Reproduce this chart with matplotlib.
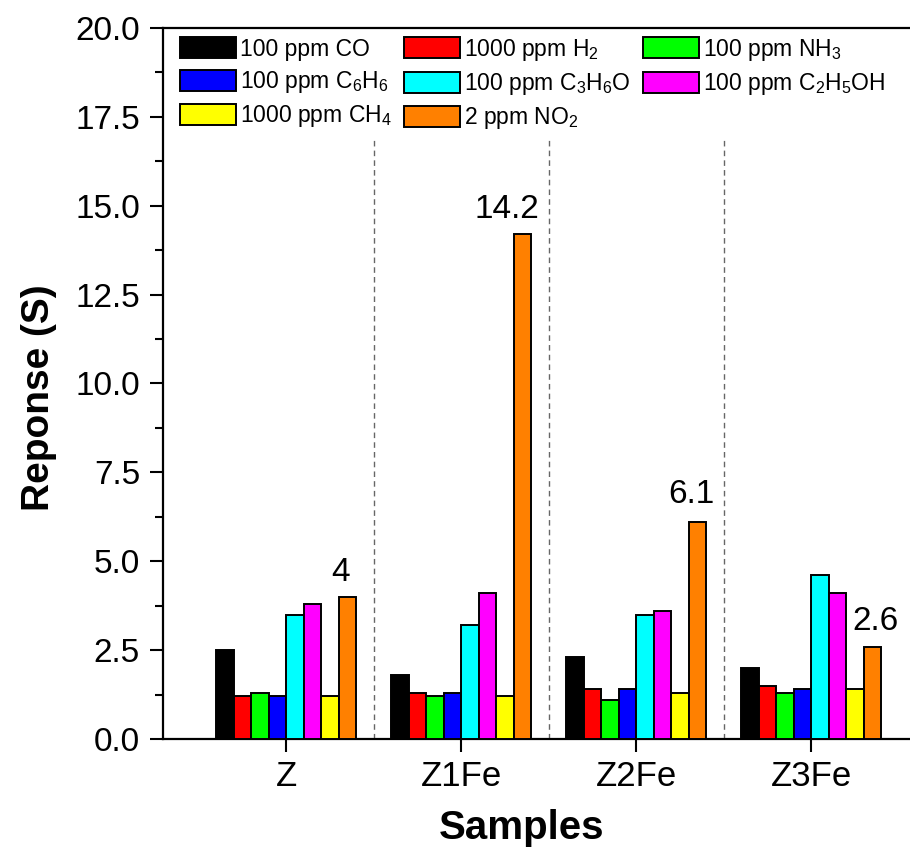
import matplotlib
matplotlib.use("Agg")
import matplotlib.pyplot as plt
from matplotlib.ticker import MultipleLocator, FormatStrFormatter
import numpy as np

plt.rcParams['font.family'] = ['Liberation Sans', 'DejaVu Sans']
plt.rcParams['mathtext.fontset'] = 'custom'
plt.rcParams['mathtext.rm'] = 'Liberation Sans'
plt.rcParams['mathtext.it'] = 'Liberation Sans:italic'
plt.rcParams['mathtext.bf'] = 'Liberation Sans:bold'

samples = ['Z', 'Z1Fe', 'Z2Fe', 'Z3Fe']
gases = ['100 ppm CO', '1000 ppm H$_2$', '100 ppm NH$_3$', '100 ppm C$_6$H$_6$',
         '100 ppm C$_3$H$_6$O', '100 ppm C$_2$H$_5$OH', '1000 ppm CH$_4$', '2 ppm NO$_2$']
colors = ['#000000', '#ff0000', '#00ff00', '#0000ff',
          '#00ffff', '#ff00ff', '#ffff00', '#ff8000']

co = [2.5, 1.8, 2.3, 2.0]
h2 = [1.2, 1.3, 1.4, 1.5]
nh3 = [1.3, 1.2, 1.1, 1.3]
c6h6 = [1.2, 1.3, 1.4, 1.4]
c3h6o = [3.5, 3.2, 3.5, 4.6]
c2h5oh = [3.8, 4.1, 3.6, 4.1]
ch4 = [1.2, 1.2, 1.3, 1.4]
no2 = [4.0, 14.2, 6.1, 2.6]
no2_labels = ['4', '14.2', '6.1', '2.6']

series = [co, h2, nh3, c6h6, c3h6o, c2h5oh, ch4, no2]

fig = plt.figure(figsize=(9.1, 8.5), dpi=100)
ax = fig.add_axes([163 / 910, 111 / 850, 762 / 910, 711 / 850])

x = np.arange(len(samples))
w = 0.1
bars = []
for i, vals in enumerate(series):
    b = ax.bar(x + (i - 3.5) * w, vals, w, color=colors[i], edgecolor='black',
               linewidth=1.4, label=gases[i], zorder=3)
    bars.append(b)

# value labels above the NO2 bars
dx = [-0.04, -0.09, -0.035, 0.02]
dy = [0.25, 0.25, 0.35, 0.27]
for j, rect in enumerate(bars[-1]):
    cx = rect.get_x() + rect.get_width() / 2
    ax.text(cx + dx[j], no2[j] + dy[j], no2_labels[j], ha='center', va='bottom', fontsize=24)

# dashed separators between samples
ax.vlines(x[:-1] + 0.5, 0, 16.9, colors='#666666', linestyles=(0, (4, 3)), linewidth=1.0, zorder=1)

ax.set_ylim(0, 20)
ax.set_xlim(-0.703, 3.651)
ax.yaxis.set_major_locator(MultipleLocator(2.5))
ax.yaxis.set_minor_locator(MultipleLocator(1.25))
ax.yaxis.set_major_formatter(FormatStrFormatter('%.1f'))
ax.set_xticks(x)
ax.set_xticklabels(samples)

for s in ax.spines.values():
    s.set_linewidth(1.6)
ax.tick_params(axis='y', which='major', direction='out', length=9.5, width=1.5, labelsize=24, pad=7)
ax.tick_params(axis='y', which='minor', direction='out', length=6, width=1.5)
ax.tick_params(axis='x', which='major', direction='out', length=9, width=1.5, labelsize=25, pad=6)

ax.set_ylabel('Reponse (S)', fontsize=28, fontweight='bold')
ax.set_xlabel('Samples', fontsize=29, fontweight='bold')
ax.yaxis.set_label_coords(-0.139, 0.48)
ax.xaxis.set_label_coords(0.47, -0.099)

# legend, filled row by row like the original
order = [0, 3, 6, 1, 4, 7, 2, 5]
handles = [bars[k] for k in order]
labels = [gases[k] for k in order]
ax.legend(handles, labels, ncol=3, loc='upper left', bbox_to_anchor=(0.0223, 0.988),
          frameon=False, fontsize=16.5, handlelength=2.45, handleheight=1.05,
          handletextpad=0.15, columnspacing=0.55, labelspacing=0.37, borderpad=0,
          borderaxespad=0)

fig.savefig('out.png', dpi=100)
